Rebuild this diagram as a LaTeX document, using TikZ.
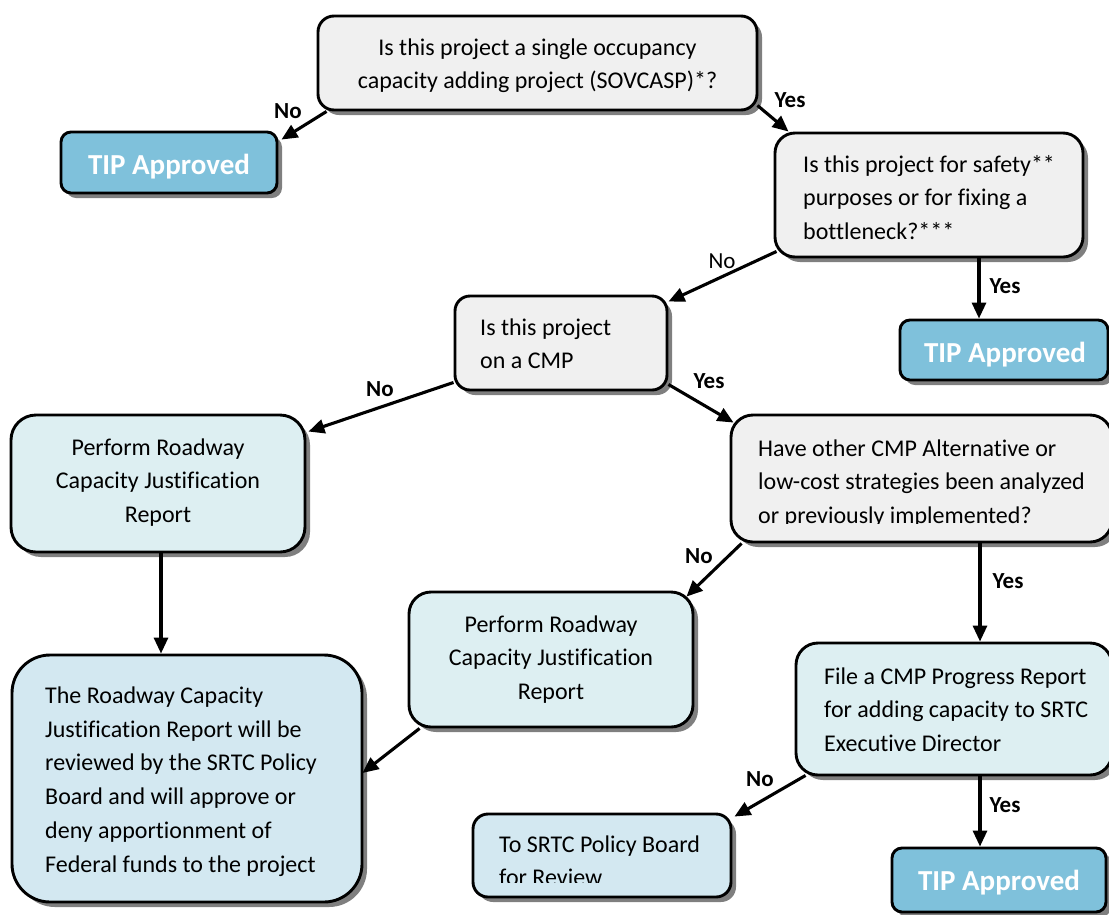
\documentclass[tikz,border=0pt]{standalone}
\usepackage{fontspec}
\setmainfont[Ligatures=NoCommon]{Carlito}
\usetikzlibrary{shadows,arrows.meta,calc}
\definecolor{qfill}{HTML}{F0F0F0}
\definecolor{tipfill}{HTML}{7FC1DB}
\definecolor{afill}{HTML}{DDEFF2}
\definecolor{bfill}{HTML}{D3E8F1}
\definecolor{shadowgrey}{HTML}{7F7F7F}
\begin{document}
\begin{tikzpicture}[x=1pt,y=-1pt,
  box/.style={draw=black, line width=2.9pt, rounded corners=#1,
    drop shadow={shadow xshift=5pt,shadow yshift=-5pt,fill=shadowgrey,opacity=1},
    inner sep=0pt},
  qbox/.style={box=#1, fill=qfill},
  tipbox/.style={box=#1, fill=tipfill},
  abox/.style={box=#1, fill=afill},
  bbox/.style={box=#1, fill=bfill},
  txt/.style={inner sep=0pt, font=\fontsize{24}{33.5}\selectfont},
  tiptxt/.style={inner sep=0pt, anchor=base, text=white, font=\fontsize{29}{34}\selectfont\bfseries},
  lbl/.style={inner sep=0pt, anchor=base, font=\fontsize{23}{28}\selectfont\bfseries},
  lblr/.style={inner sep=0pt, anchor=base, font=\fontsize{23}{28}\selectfont},
  arr/.style={line width=3.1pt, -{Triangle[length=16pt,width=14pt]}}
]
\useasboundingbox (0,0) rectangle (1109,914);

% boxes
\node[qbox=16, minimum width=439pt, minimum height=94pt] (q1) at (537.5,63) {};
\node[tipbox=10, minimum width=216pt, minimum height=61pt] (tip1) at (169,162.5) {};
\node[qbox=20, minimum width=308pt, minimum height=124pt] (q2) at (929,195) {};
\node[tipbox=10, minimum width=208pt, minimum height=60pt] (tip2) at (1004,350) {};
\node[qbox=15, minimum width=212pt, minimum height=94pt] (q3) at (561,343) {};
\node[abox=25, minimum width=294pt, minimum height=137pt] (p1) at (158,483.5) {};
\node[qbox=22, minimum width=381pt, minimum height=127pt] (q4) at (921.5,478.5) {};
\node[abox=22, minimum width=284pt, minimum height=135pt] (p2) at (551,659.5) {};
\node[abox=22, minimum width=316pt, minimum height=132pt] (fcmp) at (954,709) {};
\node[bbox=15, minimum width=258pt, minimum height=83pt] (tosrtc) at (602,855.5) {};
\node[tipbox=10, minimum width=214pt, minimum height=64pt] (tip3) at (999,880) {};
\node[bbox=38, minimum width=350pt, minimum height=247pt] (big) at (187,778.5) {};

% texts
\node[txt, anchor=north, align=center] (q1t) at (537.5,31.5)
  {\strut Is this project a single occupancy\\capacity adding project (SOVCASP)*?};
\node[tiptxt] (tip1t) at (169,174) {TIP Approved};
\node[txt, anchor=north west, align=left] (q2t) at (803,148.5)
  {\strut Is this project for safety**\\purposes or for fixing a\\bottleneck?***};
\node[tiptxt] (tip2t) at (1005,362) {TIP Approved};
\node[txt, anchor=north west, align=left] (q3t) at (480,311.5)
  {\strut Is this project\\on a CMP};
\node[txt, anchor=north, align=center] (p1t) at (158,431.5)
  {\strut Perform Roadway\\Capacity Justification\\Report};
\begin{scope}
  \clip (700,400) rectangle (1109,523);
  \node[txt, anchor=north west, align=left] (q4t) at (758,432.5)
    {\strut Have other CMP Alternative or\\low-cost strategies been analyzed\\or previously implemented?};
\end{scope}
\node[txt, anchor=north, align=center] (p2t) at (551,608.5)
  {\strut Perform Roadway\\Capacity Justification\\Report};
\node[txt, anchor=north west, align=left] (fcmpt) at (824,660.5)
  {\strut File a CMP Progress Report\\for adding capacity to SRTC\\Executive Director};
\begin{scope}
  \clip (480,820) rectangle (728,882);
  \node[txt, anchor=north west, align=left] (tosrtct) at (499,828.5)
    {\strut To SRTC Policy Board\\for Review};
\end{scope}
\node[tiptxt] (tip3t) at (999,890) {TIP Approved};
\node[inner sep=0pt, font=\fontsize{24}{33.8}\selectfont, anchor=north west, align=left] (bigt) at (45,679.5)
  {\strut The Roadway Capacity\\Justification Report will be\\reviewed by the SRTC Policy\\Board and will approve or\\deny apportionment of\\Federal funds to the project};

% connectors
\draw[arr] ([xshift=10pt]q1.south west) -- ([xshift=3pt,yshift=-9pt]tip1.north east);
\draw[arr] ([xshift=-1pt,yshift=6pt]q1.south east) -- ([xshift=15pt]q2.north west);
\draw[arr] ([xshift=3pt,yshift=7pt]q2.south west) -- ([yshift=-7pt]q3.north east);
\draw[arr] ([xshift=50pt]q2.south) -- ([xshift=50pt]q2.south |- tip2.north);
\draw[arr] ([yshift=9pt]q3.south west) -- ([xshift=2pt,yshift=-18pt]p1.north east);
\draw[arr] ([yshift=7pt]q3.south east) -- ([xshift=4pt,yshift=-9pt]q4.north west);
\draw[arr] ([xshift=12pt]q4.south west) -- ([xshift=-8pt,yshift=-6pt]p2.north east);
\draw[arr] ([xshift=58.5pt]q4.south) -- ([xshift=58.5pt]q4.south |- fcmp.north);
\draw[arr] ([xshift=3pt]p1.south) -- ([xshift=3pt]p1.south |- big.north);
\draw[arr] ([xshift=12pt]p2.south west) -- ([xshift=-1pt,yshift=5.5pt]big.east);
\draw[arr] ([xshift=11pt,yshift=1pt]fcmp.south west) -- ([xshift=2pt,yshift=-4pt]tosrtc.north east);
\draw[arr] ([xshift=26pt]fcmp.south) -- ([xshift=26pt]fcmp.south |- tip3.north);

% labels
\node[lbl] (l1) at (288,118) {No};
\node[lbl] (l2) at (790,107) {Yes};
\node[lblr] (l3) at (722,268) {No};
\node[lbl] (l4) at (1005,293) {Yes};
\node[lbl] (l5) at (380,396) {No};
\node[lbl] (l6) at (709,388) {Yes};
\node[lbl] (l7) at (699,563) {No};
\node[lbl] (l8) at (1008,588) {Yes};
\node[lbl] (l9) at (760,786) {No};
\node[lbl] (l10) at (1005,812) {Yes};
\end{tikzpicture}
\end{document}
